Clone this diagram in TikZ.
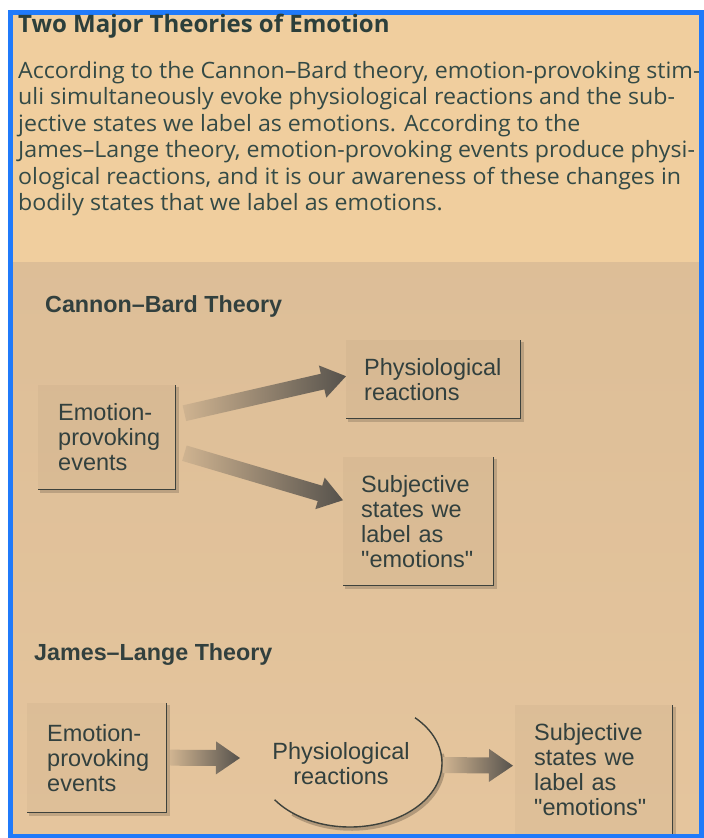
\documentclass[tikz,border=0pt]{standalone}
\usepackage{fontspec}
\setmainfont{Open Sans}
\newfontfamily\parafont[FakeStretch=1.03]{Open Sans}
\newfontfamily\diagfont{Liberation Sans}
\usetikzlibrary{calc,shapes.geometric}

\definecolor{pageblue}{RGB}{32,122,250}
\definecolor{paperup}{RGB}{240,206,158}
\definecolor{paperlow}{RGB}{229,197,157}
\definecolor{ink}{RGB}{52,74,70}
\definecolor{diagink}{RGB}{50,64,62}
\definecolor{boxline}{RGB}{62,66,60}
\definecolor{arrowdark}{RGB}{86,82,76}

% broad shaded arrow from #1 to #2 (named coordinates)
\newcommand\fatarrow[2]{%
  \coordinate (fa-h) at ($(#2)!24pt!(#1)$);
  \shade[left color=arrowdark!15!paperlow, right color=arrowdark]
    ($(#1)!8pt!90:(#2)$) -- ($(fa-h)!8pt!90:(#2)$) -- ($(fa-h)!16.5pt!90:(#2)$)
    -- (#2) -- ($(fa-h)!16.5pt!-90:(#2)$) -- ($(fa-h)!8pt!-90:(#2)$)
    -- ($(#1)!8pt!-90:(#2)$) -- cycle;
}

\begin{document}
\begin{tikzpicture}[x=1pt,y=-1pt,
  para/.style={anchor=base west, inner sep=0pt, text=ink,
    font=\parafont\fontsize{22.5}{25}\selectfont},
  headline/.style={anchor=base west, inner sep=0pt, text=ink!85!black,
    font=\bfseries\fontsize{24}{27}\selectfont},
  theory/.style={anchor=base west, inner sep=0pt, text=diagink,
    font=\diagfont\bfseries\fontsize{23.3}{26}\selectfont},
  textbox/.style={anchor=north west, rectangle, inner ysep=0pt,
    align=left, text=diagink, fill=black, fill opacity=0.028, text opacity=1,
    font=\diagfont\fontsize{23.5}{25}\selectfont},
  boxedge/.style={draw=boxline, line width=1.8pt},
  boxshadow/.style={draw=black, line width=4pt, opacity=0.16}
]
\useasboundingbox (0,0) rectangle (704,838);

% page, frame and paper tones
\fill[white] (0,0) rectangle (704,838);
\fill[pageblue] (8,10) rectangle (704,838);
\fill[paperup] (13,15) rectangle (699,834);
\shade[top color=paperlow!94!black!60!paperlow, bottom color=paperlow]
  (13,262) rectangle (699,834);

% introductory text
\node[headline] (title) at (18,32) {Two Major Theories of Emotion};
\node[para] (p1) at (18,78)    {According to the Cannon–Bard theory, emotion-provoking stim-};
\node[para] (p2) at (18,104.5) {uli simultaneously evoke physiological reactions and the sub-};
\node[para] (p3) at (18,131)   {jective states we label as emotions. According to the};
\node[para] (p4) at (18,157.5) {James–Lange theory, emotion-provoking events produce physi-};
\node[para] (p5) at (18,184)   {ological reactions, and it is our awareness of these changes in};
\node[para] (p6) at (18,210.5) {bodily states that we label as emotions.};

% Cannon-Bard theory
\node[theory] (cbHead) at (45,312) {Cannon–Bard Theory};
\node[textbox, text width=97pt, inner xsep=20pt, minimum height=104pt]
  (cbEv) at (38,385) {Emotion-\\provoking\\events};
\node[textbox, text width=138pt, inner xsep=18pt, minimum height=78pt]
  (cbPhys) at (346,340) {Physiological\\reactions};
\node[textbox, text width=114pt, inner xsep=18pt, minimum height=128pt]
  (cbSubj) at (343,457) {Subjective\\states we\\label as\\"emotions"};

\foreach \n in {cbEv,cbPhys,cbSubj}{
  \draw[boxshadow] ([shift={(1.5,1.5)}]\n.north east) -- ([shift={(1.5,1.5)}]\n.south east) -- ([shift={(1.5,1.5)}]\n.south west);
  \draw[boxedge] (\n.north east) -- (\n.south east) -- (\n.south west);
}

\coordinate (cbA1s) at ($(cbEv.east)+(9,-24)$);
\coordinate (cbA1e) at ($(cbPhys.west)+(0,-3)$);
\coordinate (cbA2s) at ($(cbEv.east)+(9,16)$);
\coordinate (cbA2e) at ($(cbSubj.west)+(0,-21)$);
\fatarrow{cbA1s}{cbA1e}
\fatarrow{cbA2s}{cbA2e}

% James-Lange theory
\node[theory] (jlHead) at (34,660) {James–Lange Theory};
\node[textbox, text width=99pt, inner xsep=20pt, minimum height=109pt]
  (jlEv) at (27,703) {Emotion-\\provoking\\events};
\node[ellipse, inner sep=0pt, align=center, text=diagink,
  font=\diagfont\fontsize{23.5}{25}\selectfont]
  (jlPhys) at (341,764) {Physiological\\reactions};
\node[textbox, text width=119pt, inner xsep=19pt, minimum height=129pt]
  (jlSubj) at (515,705) {Subjective\\states we\\label as\\"emotions"};

\foreach \n in {jlEv,jlSubj}{
  \draw[boxshadow] ([shift={(1.5,1.5)}]\n.north east) -- ([shift={(1.5,1.5)}]\n.south east) -- ([shift={(1.5,1.5)}]\n.south west);
  \draw[boxedge] (\n.north east) -- (\n.south east) -- (\n.south west);
}

% outline of the ellipse, open towards the upper left
\coordinate (ec) at ($(jlPhys.center)+(9,-1)$);
\draw[black, opacity=0.22, line width=3.5pt]
  ($(ec)+(1.5,2)$) ++(-10:92 and 64) arc[start angle=-10, end angle=130, x radius=92, y radius=64];
\draw[boxline, line width=1.4pt]
  (ec) ++(-45:92 and 64) arc[start angle=-45, end angle=145, x radius=92, y radius=64];

\coordinate (jlA1s) at ($(jlEv.east)+(4,0)$);
\coordinate (jlA1e) at ($(jlPhys.center)+(-101,-6)$);
\coordinate (jlA2s) at ($(jlPhys.center)+(102,1)$);
\coordinate (jlA2e) at ($(jlSubj.west)+(-2,-4)$);
\fatarrow{jlA1s}{jlA1e}
\fatarrow{jlA2s}{jlA2e}

% frame edges drawn last so that nothing spills over them
\fill[pageblue] (699,10) rectangle (704,838);
\fill[pageblue] (8,834) rectangle (704,838);
\end{tikzpicture}
\end{document}
